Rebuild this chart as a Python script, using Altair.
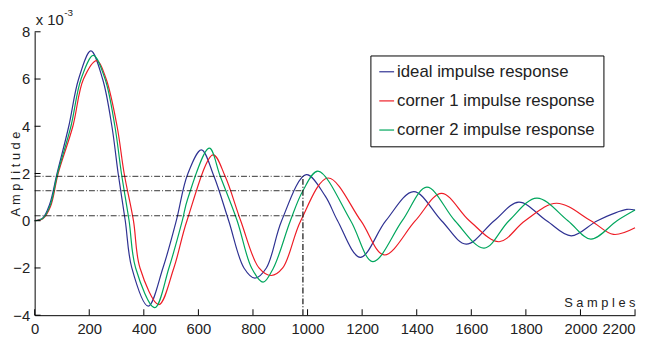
import altair as alt
import pandas as pd

# ---- data (amplitude in units of 1e-3) ----
series_names = ["ideal impulse response", "corner 1 impulse response", "corner 2 impulse response"]
series_colors = ["#2e3192", "#ee1c25", "#00a65d"]

ideal_x = [0, 30, 55, 82, 125, 161, 206, 249, 283, 306, 332, 356, 416, 470, 519, 560, 611, 657, 711,
           767, 807, 849, 905, 995, 1065, 1110, 1193, 1287, 1389, 1491, 1581, 1684, 1774, 1876,
           1966, 2062, 2170, 2200]
ideal_y = [0, 0.12, 0.7, 2.0, 4.0, 6.0, 7.19, 6.0, 4.0, 2.0, 0, -2.0, -3.62, -2.0, 0, 1.95, 3.0, 1.88, 0,
           -2.0, -2.43, -2.0, 0, 1.95, 1.04, 0, -1.55, 0, 1.23, 0, -0.99, 0, 0.79, 0,
           -0.64, 0, 0.48, 0.45]

corner1_x = [0, 30, 58, 86, 140, 179, 228, 262, 302, 328, 362, 386, 455, 510, 558, 654, 698, 755, 822,
             867, 909, 975, 1075, 1195, 1281, 1395, 1491, 1593, 1702, 1797, 1912, 2038, 2121, 2200]
corner1_y = [0, 0.08, 0.6, 2.0, 4.0, 6.0, 6.78, 6.0, 4.0, 2.0, 0, -2.0, -3.55, -2.0, 0, 2.79, 1.88, 0, -2.0,
             -2.32, -2.0, 0, 1.81, 0, -1.45, 0, 1.16, 0, -0.89, 0, 0.74, 0, -0.58, -0.3]

corner2_x = [0, 30, 57, 84, 133, 170, 215, 258, 294, 318, 346, 370, 440, 492, 541, 560, 640, 680, 742,
             795, 837, 875, 937, 983, 1038, 1158, 1239, 1347, 1437, 1540, 1647, 1738, 1840, 1954,
             2038, 2134, 2200]
corner2_y = [0, 0.1, 0.65, 2.0, 4.0, 6.0, 7.0, 6.0, 4.0, 2.0, 0, -2.0, -3.68, -2.0, 0, 0.9, 3.07, 1.88, 0,
             -2.0, -2.6, -2.0, 0, 1.27, 2.1, 0, -1.73, 0, 1.42, 0, -1.16, 0, 0.96, 0,
             -0.78, 0, 0.45]

# guide lines (dash-dot)
guide_levels = [1.88, 1.27, 0.21]
guide_x = 983
x_ticks = list(range(0, 2201, 200))
y_ticks = [-4, -2, 0, 2, 4, 6, 8]

W, H = 608, 287
FONT = "Liberation Sans"

rows = []
for name, xs, ys in [(series_names[0], ideal_x, ideal_y),
                     (series_names[1], corner1_x, corner1_y),
                     (series_names[2], corner2_x, corner2_y)]:
    for xv, yv in zip(xs, ys):
        rows.append({"series": name, "x": xv, "y": yv})
df = pd.DataFrame(rows)

xscale = alt.Scale(domain=[0, 2200], nice=False, zero=False)
yscale = alt.Scale(domain=[-4, 8], nice=False, zero=False)

xaxis = alt.Axis(values=x_ticks, format="d", title="S a m p l e s", titleX=W, titleY=-13,
                 titleAlign="right", titleBaseline="middle", titleFontSize=13,
                 titleFontWeight="normal", labelOverlap=False,
                 labelAlign={"expr": "datum.value == 2200 ? 'right' : 'center'"})
yaxis = alt.Axis(values=y_ticks, format="d", title="A m p l i t u d e", titleX=-19, titleY=H / 2,
                 titleAngle=-90, titleAlign="center", titleBaseline="middle",
                 titleFontSize=13, titleFontWeight="normal", labelOverlap=False)

lines = alt.Chart(df).mark_line(interpolate="catmull-rom", strokeWidth=1.2).encode(
    x=alt.X("x:Q", scale=xscale, axis=xaxis),
    y=alt.Y("y:Q", scale=yscale, axis=yaxis),
    color=alt.Color("series:N", scale=alt.Scale(domain=series_names, range=series_colors),
                    legend=alt.Legend(orient="none", legendX=340, legendY=24, title=None,
                                      symbolType="stroke", symbolSize=225, symbolStrokeWidth=1.2,
                                      labelFontSize=17, labelFont=FONT, labelOffset=2,
                                      labelColor="#222222",
                                      strokeColor="black", fillColor="white", padding=8,
                                      rowPadding=11.5, labelLimit=400)),
)

hdf = pd.DataFrame({"y": guide_levels, "x": [0] * len(guide_levels), "x1": [guide_x] * len(guide_levels)})
hrules = alt.Chart(hdf).mark_rule(color="black", strokeWidth=0.8, strokeDash=[6, 2, 1, 2]).encode(
    x=alt.X("x:Q", scale=xscale, axis=xaxis), x2="x1:Q",
    y=alt.Y("y:Q", scale=yscale, axis=yaxis))

vdf = pd.DataFrame({"x": [guide_x], "y": [-4], "y1": [guide_levels[0]]})
vrule = alt.Chart(vdf).mark_rule(color="#222222", strokeWidth=1.3, strokeDash=[6, 2, 1, 2]).encode(
    x=alt.X("x:Q", scale=xscale, axis=xaxis),
    y=alt.Y("y:Q", scale=yscale, axis=yaxis), y2="y1:Q")

xt = alt.Chart(pd.DataFrame({"x": x_ticks})).mark_rule(color="black", strokeWidth=1).encode(
    x=alt.X("x:Q", scale=xscale, axis=xaxis), y=alt.value(H), y2=alt.value(H - 6))
yt = alt.Chart(pd.DataFrame({"y": y_ticks})).mark_rule(color="black", strokeWidth=1).encode(
    y=alt.Y("y:Q", scale=yscale, axis=yaxis), x=alt.value(0), x2=alt.value(6))

exp_main = alt.Chart(pd.DataFrame({"t": ["x 10"]})).mark_text(
    align="left", baseline="middle", fontSize=15, font=FONT, color="#222222").encode(
    x=alt.value(1), y=alt.value(-12), text="t:N")
exp_sup = alt.Chart(pd.DataFrame({"t": ["-3"]})).mark_text(
    align="left", baseline="middle", fontSize=10, font=FONT, color="#222222").encode(
    x=alt.value(30), y=alt.value(-19), text="t:N")

chart = alt.layer(lines, hrules, vrule, xt, yt, exp_main, exp_sup).properties(
    width=W, height=H,
    autosize=alt.AutoSizeParams(type="none"),
    padding={"left": 27, "top": 22, "right": 3, "bottom": 20},
).configure_view(stroke=None).configure_axis(
    grid=False, ticks=False, domainColor="black", domainWidth=1,
    labelFont=FONT, labelFontSize=15, labelColor="#222222", labelPadding=7,
    titleFont=FONT, titleColor="#222222",
).configure_axisY(labelAlign="right", labelBaseline="middle", labelPadding=5).configure_legend(cornerRadius=0)

chart.save("out.html", embed_options={"renderer": "svg", "actions": False})
